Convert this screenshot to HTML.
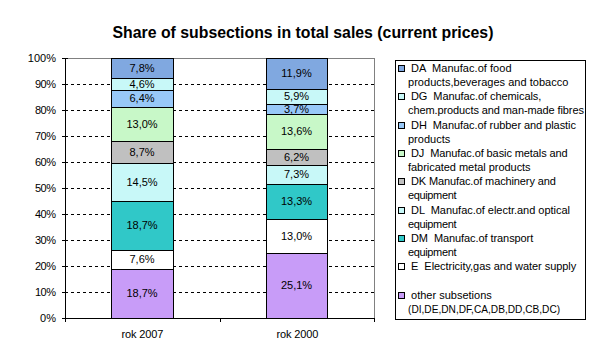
<!DOCTYPE html>
<html><head><meta charset="utf-8"><style>
html,body{margin:0;padding:0;background:#fff;width:604px;height:359px;overflow:hidden}
svg{display:block;font-family:"Liberation Sans",sans-serif;font-size:11px;fill:#000}
</style></head><body>
<svg width="604" height="359" viewBox="0 0 604 359" shape-rendering="crispEdges">
<rect width="604" height="359" fill="#fff"/>
<line x1="65" y1="84.5" x2="374" y2="84.5" stroke="#000" stroke-dasharray="3 3"/>
<line x1="65" y1="110.5" x2="374" y2="110.5" stroke="#000" stroke-dasharray="3 3"/>
<line x1="65" y1="136.5" x2="374" y2="136.5" stroke="#000" stroke-dasharray="3 3"/>
<line x1="65" y1="162.5" x2="374" y2="162.5" stroke="#000" stroke-dasharray="3 3"/>
<line x1="65" y1="188.5" x2="374" y2="188.5" stroke="#000" stroke-dasharray="3 3"/>
<line x1="65" y1="214.5" x2="374" y2="214.5" stroke="#000" stroke-dasharray="3 3"/>
<line x1="65" y1="240.5" x2="374" y2="240.5" stroke="#000" stroke-dasharray="3 3"/>
<line x1="65" y1="266.5" x2="374" y2="266.5" stroke="#000" stroke-dasharray="3 3"/>
<line x1="65" y1="292.5" x2="374" y2="292.5" stroke="#000" stroke-dasharray="3 3"/>
<line x1="65" y1="58.5" x2="375" y2="58.5" stroke="#808080"/>
<line x1="374.5" y1="58" x2="374.5" y2="318" stroke="#808080"/>
<line x1="65.5" y1="58" x2="65.5" y2="322" stroke="#000"/>
<line x1="62" y1="58.5" x2="68" y2="58.5" stroke="#000"/>
<line x1="62" y1="84.5" x2="68" y2="84.5" stroke="#000"/>
<line x1="62" y1="110.5" x2="68" y2="110.5" stroke="#000"/>
<line x1="62" y1="136.5" x2="68" y2="136.5" stroke="#000"/>
<line x1="62" y1="162.5" x2="68" y2="162.5" stroke="#000"/>
<line x1="62" y1="188.5" x2="68" y2="188.5" stroke="#000"/>
<line x1="62" y1="214.5" x2="68" y2="214.5" stroke="#000"/>
<line x1="62" y1="240.5" x2="68" y2="240.5" stroke="#000"/>
<line x1="62" y1="266.5" x2="68" y2="266.5" stroke="#000"/>
<line x1="62" y1="292.5" x2="68" y2="292.5" stroke="#000"/>
<line x1="62" y1="318.5" x2="68" y2="318.5" stroke="#000"/>
<line x1="65" y1="318.5" x2="375" y2="318.5" stroke="#000"/>
<line x1="220.5" y1="318" x2="220.5" y2="322" stroke="#000"/>
<line x1="374.5" y1="318" x2="374.5" y2="322" stroke="#000"/>
<rect x="111.5" y="269.5" width="62" height="49" fill="#C89CF8" stroke="#000"/>
<rect x="111.5" y="250.5" width="62" height="19" fill="#FFFFFF" stroke="#000"/>
<rect x="111.5" y="201.5" width="62" height="49" fill="#30C8C8" stroke="#000"/>
<rect x="111.5" y="163.5" width="62" height="38" fill="#C8F8F8" stroke="#000"/>
<rect x="111.5" y="141.5" width="62" height="22" fill="#C0C0C0" stroke="#000"/>
<rect x="111.5" y="107.5" width="62" height="34" fill="#C8F8C8" stroke="#000"/>
<rect x="111.5" y="90.5" width="62" height="17" fill="#98C8F8" stroke="#000"/>
<rect x="111.5" y="78.5" width="62" height="12" fill="#C8F8F8" stroke="#000"/>
<rect x="111.5" y="58.5" width="62" height="20" fill="#80A8E0" stroke="#000"/>
<rect x="266.5" y="253.5" width="61" height="65" fill="#C89CF8" stroke="#000"/>
<rect x="266.5" y="219.5" width="61" height="34" fill="#FFFFFF" stroke="#000"/>
<rect x="266.5" y="184.5" width="61" height="35" fill="#30C8C8" stroke="#000"/>
<rect x="266.5" y="165.5" width="61" height="19" fill="#C8F8F8" stroke="#000"/>
<rect x="266.5" y="149.5" width="61" height="16" fill="#C0C0C0" stroke="#000"/>
<rect x="266.5" y="114.5" width="61" height="35" fill="#C8F8C8" stroke="#000"/>
<rect x="266.5" y="104.5" width="61" height="10" fill="#98C8F8" stroke="#000"/>
<rect x="266.5" y="89.5" width="61" height="15" fill="#C8F8F8" stroke="#000"/>
<rect x="266.5" y="58.5" width="61" height="31" fill="#80A8E0" stroke="#000"/>
<text x="142.0" y="297.0" text-anchor="middle">18,7%</text>
<text x="142.0" y="263.0" text-anchor="middle">7,6%</text>
<text x="142.0" y="229.0" text-anchor="middle">18,7%</text>
<text x="142.0" y="185.5" text-anchor="middle">14,5%</text>
<text x="142.0" y="155.5" text-anchor="middle">8,7%</text>
<text x="142.0" y="127.5" text-anchor="middle">13,0%</text>
<text x="142.0" y="102.0" text-anchor="middle">6,4%</text>
<text x="142.0" y="87.5" text-anchor="middle">4,6%</text>
<text x="142.0" y="71.5" text-anchor="middle">7,8%</text>
<text x="296.5" y="289.0" text-anchor="middle">25,1%</text>
<text x="296.5" y="239.5" text-anchor="middle">13,0%</text>
<text x="296.5" y="205.0" text-anchor="middle">13,3%</text>
<text x="296.5" y="178.0" text-anchor="middle">7,3%</text>
<text x="296.5" y="160.5" text-anchor="middle">6,2%</text>
<text x="296.5" y="135.0" text-anchor="middle">13,6%</text>
<text x="296.5" y="112.5" text-anchor="middle">3,7%</text>
<text x="296.5" y="100.0" text-anchor="middle">5,9%</text>
<text x="296.5" y="77.0" text-anchor="middle">11,9%</text>
<text x="56" y="61.5" text-anchor="end">100%</text>
<text x="56" y="87.5" text-anchor="end" textLength="21" lengthAdjust="spacing">90%</text>
<text x="56" y="113.5" text-anchor="end" textLength="21" lengthAdjust="spacing">80%</text>
<text x="56" y="139.5" text-anchor="end" textLength="21" lengthAdjust="spacing">70%</text>
<text x="56" y="165.5" text-anchor="end" textLength="21" lengthAdjust="spacing">60%</text>
<text x="56" y="191.5" text-anchor="end" textLength="21" lengthAdjust="spacing">50%</text>
<text x="56" y="217.5" text-anchor="end" textLength="21" lengthAdjust="spacing">40%</text>
<text x="56" y="243.5" text-anchor="end" textLength="21" lengthAdjust="spacing">30%</text>
<text x="56" y="269.5" text-anchor="end" textLength="21" lengthAdjust="spacing">20%</text>
<text x="56" y="295.5" text-anchor="end" textLength="21" lengthAdjust="spacing">10%</text>
<text x="56" y="321.5" text-anchor="end">0%</text>
<text x="142.4" y="338" text-anchor="middle" textLength="41.8" lengthAdjust="spacing">rok 2007</text>
<text x="297.5" y="338" text-anchor="middle" textLength="41.8" lengthAdjust="spacing">rok 2000</text>
<text x="303" y="37.5" text-anchor="middle" font-size="15.83" font-weight="bold">Share of subsections in total sales (current prices)</text>
<rect x="395.5" y="60.5" width="190" height="259" fill="#fff" stroke="#000"/>
<rect x="398.5" y="65.5" width="6" height="6" fill="#80A8E0" stroke="#000"/>
<text x="408" y="72.00" xml:space="preserve" textLength="103.534" lengthAdjust="spacing"> DA  Manufac.of food</text>
<text x="408" y="86.16" xml:space="preserve" textLength="160.409" lengthAdjust="spacing">products,beverages and tobacco</text>
<rect x="398.5" y="93.5" width="6" height="6" fill="#C8F8F8" stroke="#000"/>
<text x="408" y="100.32" xml:space="preserve" textLength="133.309" lengthAdjust="spacing"> DG  Manufac.of chemicals,</text>
<text x="408" y="114.48" xml:space="preserve" textLength="175.956" lengthAdjust="spacing">chem.products and man-made fibres</text>
<rect x="398.5" y="122.5" width="6" height="6" fill="#98C8F8" stroke="#000"/>
<text x="408" y="128.64" xml:space="preserve" textLength="167.984" lengthAdjust="spacing"> DH  Manufac.of rubber and plastic</text>
<text x="408" y="142.80" xml:space="preserve">products</text>
<rect x="398.5" y="150.5" width="6" height="6" fill="#C8F8C8" stroke="#000"/>
<text x="408" y="156.96" xml:space="preserve" textLength="159.741" lengthAdjust="spacing"> DJ  Manufac.of basic metals and</text>
<text x="408" y="171.12" xml:space="preserve" textLength="122.616" lengthAdjust="spacing">fabricated metal products</text>
<rect x="398.5" y="178.5" width="6" height="6" fill="#C0C0C0" stroke="#000"/>
<text x="408" y="185.28" xml:space="preserve" textLength="147.831" lengthAdjust="spacing"> DK Manufac.of machinery and</text>
<text x="408" y="199.44" xml:space="preserve" textLength="48.475" lengthAdjust="spacing">equipment</text>
<rect x="398.5" y="207.5" width="6" height="6" fill="#C8F8F8" stroke="#000"/>
<text x="408" y="213.60" xml:space="preserve" textLength="161.959" lengthAdjust="spacing"> DL  Manufac.of electr.and optical</text>
<text x="408" y="227.76" xml:space="preserve" textLength="48.475" lengthAdjust="spacing">equipment</text>
<rect x="398.5" y="235.5" width="6" height="6" fill="#30C8C8" stroke="#000"/>
<text x="408" y="241.92" xml:space="preserve" textLength="125.272" lengthAdjust="spacing"> DM  Manufac.of transport</text>
<text x="408" y="256.08" xml:space="preserve" textLength="48.475" lengthAdjust="spacing">equipment</text>
<rect x="398.5" y="263.5" width="6" height="6" fill="#FFFFFF" stroke="#000"/>
<text x="408" y="270.24" xml:space="preserve" textLength="168.266" lengthAdjust="spacing"> E  Electricity,gas and water supply</text>
<rect x="398.5" y="292.5" width="6" height="6" fill="#C89CF8" stroke="#000"/>
<text x="408" y="298.56" xml:space="preserve"> other subsetions</text>
<text transform="translate(408 312.72) scale(0.9224 1)" xml:space="preserve">(DI,DE,DN,DF,CA,DB,DD,CB,DC)</text>
</svg>
</body></html>
